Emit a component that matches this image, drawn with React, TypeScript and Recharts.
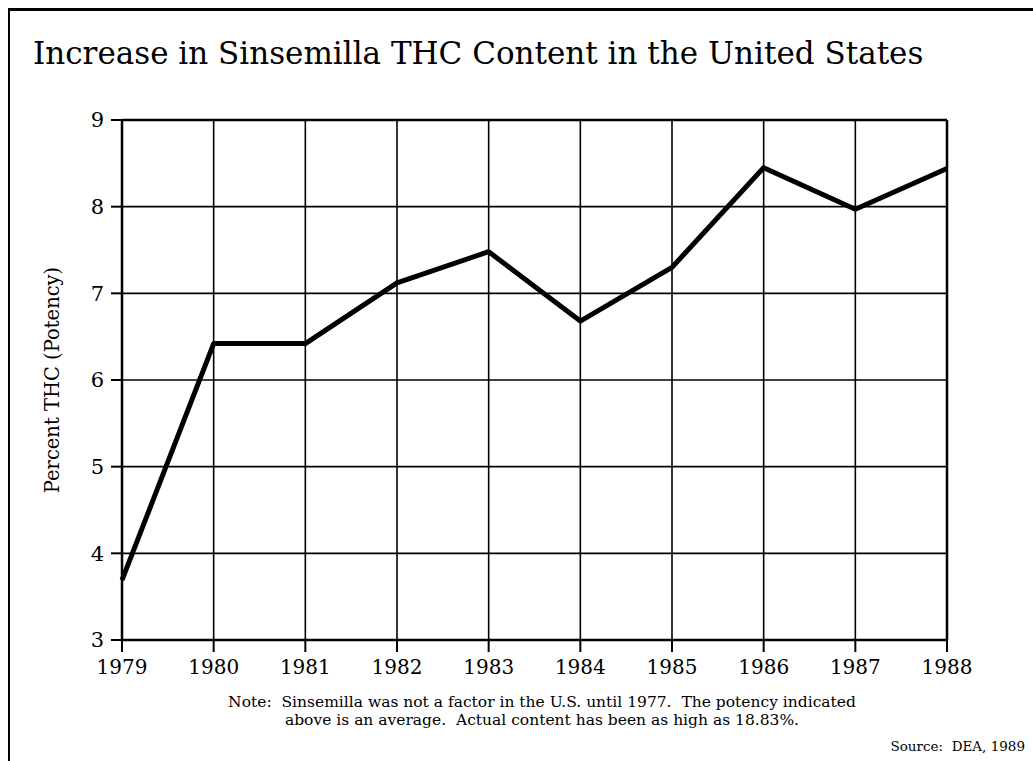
import React from 'react';
import { LineChart, Line, XAxis, YAxis, CartesianGrid, ReferenceLine } from 'recharts';

const years = ['1979', '1980', '1981', '1982', '1983', '1984', '1985', '1986', '1987', '1988'];
const thcPercent = [3.69, 6.42, 6.42, 7.12, 7.48, 6.68, 7.3, 8.45, 7.97, 8.44];
const yTicks = [3, 4, 5, 6, 7, 8, 9];

const data = years.map((year, i) => ({ year, thc: thcPercent[i] }));

const SERIF = '"DejaVu Serif", serif';

const App = () => {
  return (
    <div style={{ position: 'absolute', left: 0, top: 0, width: 1033, height: 761, background: '#fff', fontFamily: SERIF }}>
      {/* page frame */}
      <div
        style={{
          position: 'absolute',
          left: 8,
          top: 8,
          width: 1025,
          height: 753,
          borderTop: '3px solid #000',
          borderLeft: '2px solid #000',
          boxSizing: 'border-box',
        }}
      />
      <div style={{ position: 'absolute', left: 33, top: 35, fontSize: 31, color: '#000', whiteSpace: 'nowrap' }}>
        Increase in Sinsemilla THC Content in the United States
      </div>
      <div style={{ position: 'absolute', left: 0, top: 0 }}>
        <LineChart width={1033} height={761} data={data} margin={{ top: 120, right: 86, bottom: 0, left: 0 }}>
          <CartesianGrid stroke="#000" strokeWidth={1.6} strokeOpacity={1} />
          <XAxis
            dataKey="year"
            height={121}
            tickSize={12}
            tickMargin={8}
            axisLine={{ stroke: '#000', strokeWidth: 2.5 }}
            tickLine={{ stroke: '#000', strokeWidth: 2 }}
            tick={{ fill: '#000', fontSize: 20, fontFamily: SERIF }}
            interval={0}
          />
          <YAxis
            width={122}
            domain={[3, 9]}
            ticks={yTicks}
            tickSize={11}
            tickMargin={7}
            axisLine={{ stroke: '#000', strokeWidth: 2.5 }}
            tickLine={{ stroke: '#000', strokeWidth: 2 }}
            tick={{ fill: '#000', fontSize: 21, fontFamily: SERIF }}
            label={{
              value: 'Percent THC (Potency)',
              angle: -90,
              position: 'insideLeft',
              offset: 52,
              style: { fill: '#000', fontSize: 19.5, fontFamily: SERIF, textAnchor: 'middle' },
            }}
          />
          <ReferenceLine y={9} stroke="#000" strokeWidth={2.5} />
          <ReferenceLine x="1988" stroke="#000" strokeWidth={2.5} />
          <Line
            type="linear"
            dataKey="thc"
            stroke="#000"
            strokeWidth={5}
            dot={false}
            strokeLinejoin="round"
            isAnimationActive={false}
          />
        </LineChart>
      </div>
      <div
        style={{
          position: 'absolute',
          left: 192,
          width: 700,
          top: 693,
          fontSize: 15.5,
          lineHeight: '18px',
          textAlign: 'center',
          color: '#000',
          whiteSpace: 'pre',
        }}
      >
        {'Note:  Sinsemilla was not a factor in the U.S. until 1977.  The potency indicated\nabove is an average.  Actual content has been as high as 18.83%.'}
      </div>
      <div style={{ position: 'absolute', right: 8, top: 738, fontSize: 13.5, color: '#000', whiteSpace: 'pre' }}>
        {'Source:  DEA, 1989'}
      </div>
    </div>
  );
};

export default App;
